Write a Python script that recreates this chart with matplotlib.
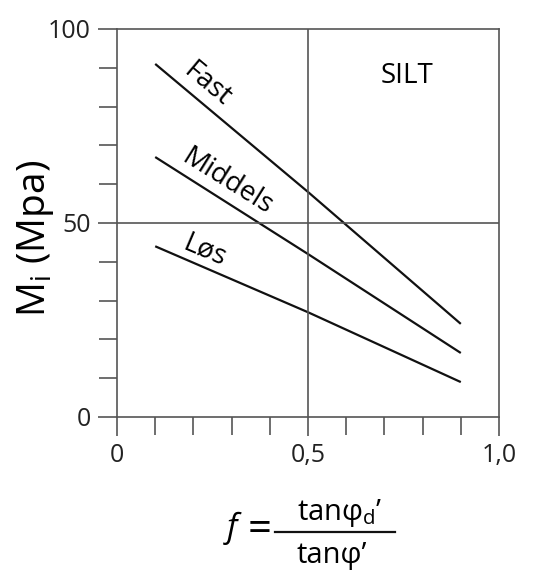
import matplotlib
matplotlib.use("Agg")
import matplotlib.pyplot as plt
from matplotlib.lines import Line2D
import numpy as np

plt.rcParams['font.family'] = ['Open Sans', 'DejaVu Sans']
plt.rcParams['mathtext.fontset'] = 'custom'
plt.rcParams['mathtext.rm'] = 'Open Sans'
plt.rcParams['mathtext.it'] = 'Open Sans:italic'
plt.rcParams['mathtext.sf'] = 'Open Sans'

# data
f_vals = [0.1, 0.5, 0.9]
fast = [91, 58, 24]
middels = [67, 42, 16.5]
los = [44, 27, 9]
series_names = ["Fast", "Middels", "Løs"]
x_ticklabels = ["0", "0,5", "1,0"]
y_ticklabels = ["0", "50", "100"]

W, H = 539, 573
fig = plt.figure(figsize=(W/100, H/100), dpi=100)
ax = fig.add_axes([117/W, 1-417/H, (499-117)/W, (417-29)/H])

for ys in (fast, middels, los):
    ax.plot(f_vals, ys, color='#111111', lw=1.6, solid_capstyle='butt')

ax.set_xlim(0, 1)
ax.set_ylim(0, 100)
ax.set_xticks([0, 0.5, 1.0])
ax.set_xticklabels(x_ticklabels)
ax.set_xticks(np.arange(0, 1.01, 0.1), minor=True)
ax.set_yticks([0, 50, 100])
ax.set_yticklabels(y_ticklabels)
ax.set_yticks(np.arange(0, 101, 10), minor=True)

ax.axvline(0.5, color='#555555', lw=1.2)
ax.axhline(50, color='#555555', lw=1.2)
for s in ax.spines.values():
    s.set_color('#555555')
    s.set_linewidth(1.2)

ax.tick_params(which='both', direction='out', color='#555555', width=1.2, length=13)
ax.tick_params(which='major', length=14, labelsize=18, pad=5, labelcolor='#222222')

lab_fs = 20
ax.text(0.236, 85.6, series_names[0], rotation=-40, fontsize=lab_fs, ha='center', va='center', rotation_mode='anchor')
ax.text(0.288, 60.5, series_names[1], rotation=-32, fontsize=lab_fs, ha='center', va='center', rotation_mode='anchor')
ax.text(0.23, 43.0, series_names[2], rotation=-23, fontsize=lab_fs, ha='center', va='center', rotation_mode='anchor')
ax.text(0.76, 88, "SILT", fontsize=lab_fs, ha='center', va='center')

fig.text(35/W, 1-238/H, r"M$_\mathrm{i}$ (Mpa)", rotation=90, fontsize=28,
         ha='center', va='center')

# x-axis label: f = tanφd' / tanφ'
fs = 21
fig.text(232/W, 1-528/H, "f", style='italic', fontsize=24, ha='center', va='center')
fig.text(260/W, 1-530/H, "=", fontsize=30, ha='center', va='center')
fig.text(297/W, 1-520/H, "tanφ$_\\mathrm{d}$’", fontsize=fs, ha='left', va='baseline')
fig.text(297/W, 1-563/H, "tanφ’", fontsize=fs, ha='left', va='baseline')
fig.add_artist(Line2D([275/W, 395/W], [1-532/H, 1-532/H], transform=fig.transFigure,
                      color='#111111', lw=1.6))

fig.savefig("out.png", dpi=100, facecolor='white')
